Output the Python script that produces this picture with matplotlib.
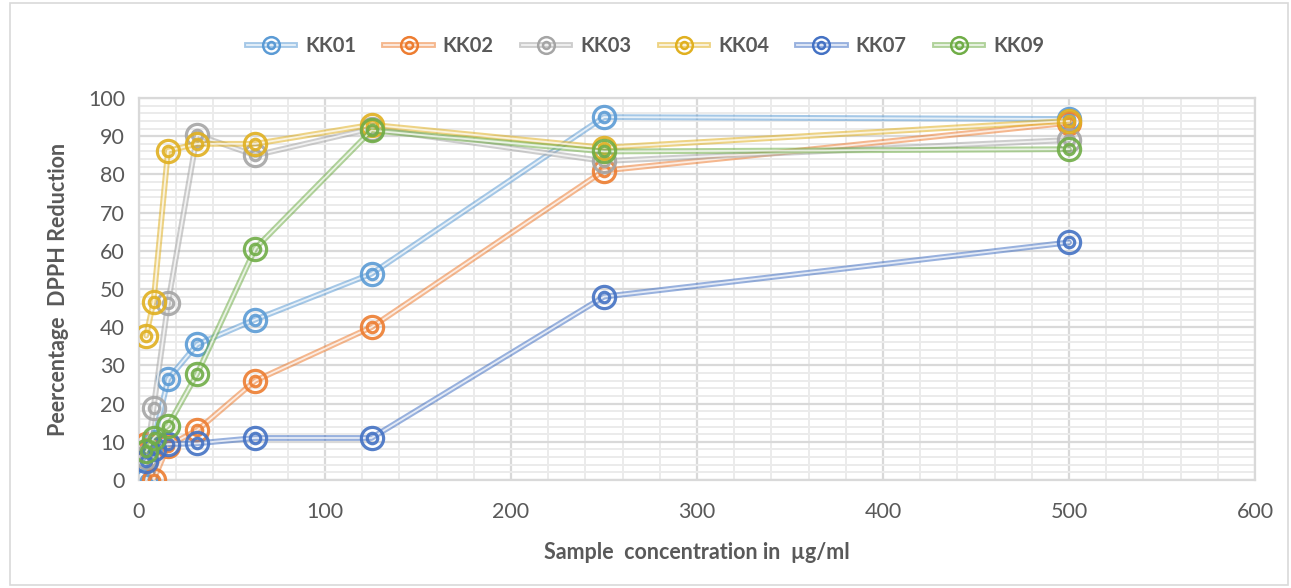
import matplotlib
matplotlib.use("Agg")
import matplotlib.pyplot as plt
from matplotlib.lines import Line2D
from matplotlib.legend_handler import HandlerTuple
from matplotlib.patches import Rectangle
from matplotlib.ticker import MultipleLocator

plt.rcParams['font.family'] = ['Lato', 'DejaVu Sans']

concentration = [3.9, 7.8, 15.6, 31.25, 62.5, 125, 250, 500]
series_names = ["KK01", "KK02", "KK03", "KK04", "KK07", "KK09"]
kk01 = [0, 10, 26.4, 35.5, 42, 54, 95, 94.5]
kk02 = [9.5, 0, 9, 13, 26, 40, 81, 93.5]
kk03 = [6, 18.8, 46.3, 90.3, 85, 92, 83.5, 89]
kk04 = [37.8, 46.7, 86.2, 88, 88, 93, 87, 94]
kk07 = [5, 8, 9.4, 9.6, 11, 11, 48, 62.2]
kk09 = [7.5, 11, 14.2, 27.8, 60.6, 91.5, 86, 86.6]
values = [kk01, kk02, kk03, kk04, kk07, kk09]
colors = ["#5B9BD5", "#ED7D31", "#A5A5A5", "#E0B020", "#4472C4", "#70AD47"]

W, H = 1291, 588
fig = plt.figure(figsize=(W / 100, H / 100), dpi=100)
ax = fig.add_axes([139 / W, 1 - 480 / H, (1255 - 139) / W, (480 - 98) / H])

# outer border
fig.patches.append(Rectangle((10 / W, 3 / H), (1288 - 10) / W, (585 - 3) / H,
                             transform=fig.transFigure, fill=False,
                             edgecolor="#D9D9D9", linewidth=1.2))

ax.set_xlim(0, 600)
ax.set_ylim(0, 100)
ax.xaxis.set_major_locator(MultipleLocator(100))
ax.xaxis.set_minor_locator(MultipleLocator(20))
ax.yaxis.set_major_locator(MultipleLocator(10))
ax.yaxis.set_minor_locator(MultipleLocator(2))
ax.grid(which="major", color="#D9D9D9", linewidth=1.6, zorder=0)
ax.grid(which="minor", color="#EBEBEB", linewidth=1.4, zorder=0)
ax.set_axisbelow(True)
for s in ax.spines.values():
    s.set_color("#D9D9D9")
    s.set_linewidth(1.6)
ax.tick_params(which="both", length=0, labelsize=15.5, colors="#595959")
ax.tick_params(axis="x", pad=16)
ax.tick_params(axis="y", pad=10)

handles = []
for i, (name, ys, c) in enumerate(zip(series_names, values, colors)):
    z = 3 + i
    ax.plot(concentration, ys, color=c, lw=4.2, alpha=0.55, zorder=z, solid_capstyle="round")
    ax.plot(concentration, ys, color="white", lw=1.3, alpha=0.75, zorder=z)
    ax.plot(concentration, ys, ls="none", marker="o", ms=16, mfc="none", mec=c,
            mew=2.3, alpha=0.9, zorder=z)
    ax.plot(concentration, ys, ls="none", marker="o", ms=7.5, mfc="none", mec=c,
            mew=2.3, alpha=0.9, zorder=z)
    h1 = Line2D([], [], color=c, lw=4.2, alpha=0.55)
    h2 = Line2D([], [], color="white", lw=1.3, alpha=0.75)
    h3 = Line2D([], [], ls="none", marker="o", ms=12, mfc="none", mec=c, mew=1.8)
    h4 = Line2D([], [], ls="none", marker="o", ms=5, mfc="none", mec=c, mew=1.8)
    handles.append((h1, h2, h3, h4))

fig.legend(handles, series_names, handler_map={tuple: HandlerTuple(ndivide=1)},
           loc="center", bbox_to_anchor=(0.5, 1 - 46 / H), ncol=6, frameon=False,
           prop={"size": 14.5, "weight": "bold"}, labelcolor="#595959",
           handlelength=2.4, handletextpad=0.5, columnspacing=1.4)

ax.set_xlabel("Sample  concentration in  µg/ml", fontsize=15.5, fontweight="bold",
              color="#595959", labelpad=14)
ax.set_ylabel("Peercentage  DPPH Reduction", fontsize=15.5, fontweight="bold",
              color="#595959", labelpad=14)

fig.savefig("out.png", dpi=100)
